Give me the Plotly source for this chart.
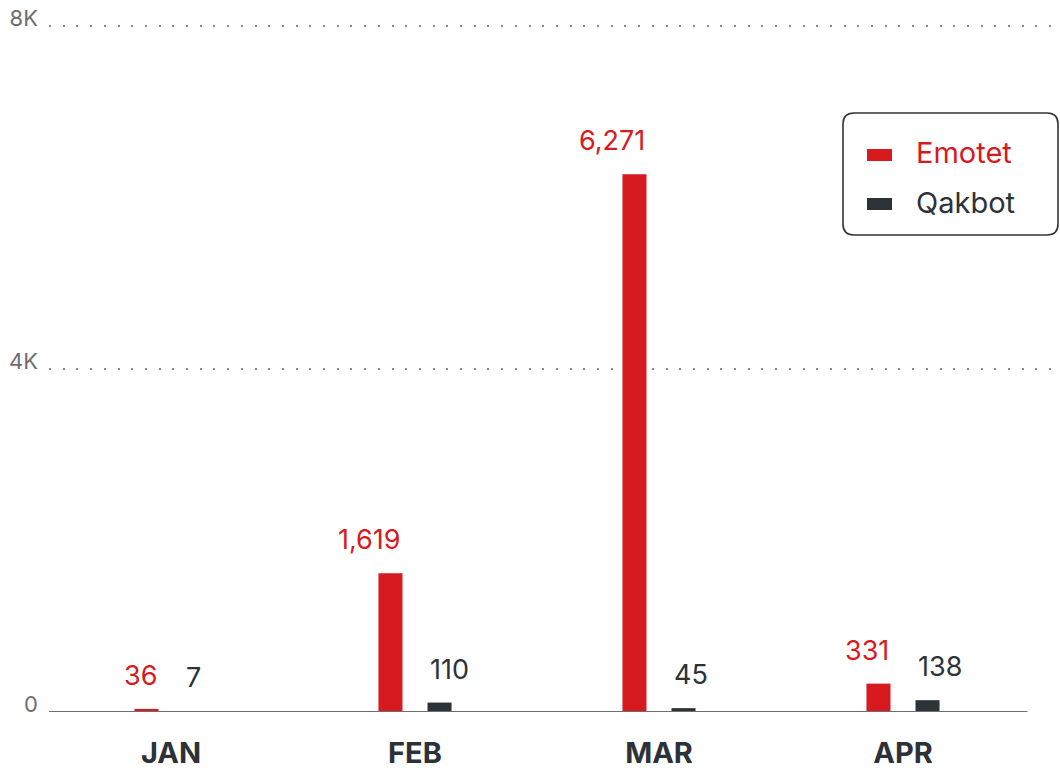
import plotly.graph_objects as go

months = ["JAN", "FEB", "MAR", "APR"]
emotet = [36, 1619, 6271, 331]
qakbot = [7, 110, 45, 138]
series_names = ["Emotet", "Qakbot"]
y_tickvals = [0, 4000, 8000]
y_ticktext = ["0", "4K", "8K"]

RED = "#d71920"
DARK = "#2b3238"
GREY = "#6e6e6e"
FONT = "Inter, Roboto, sans-serif"

W, H = 1060, 770
L, R, T, B = 49, 0, 23, 58
PW, PH = W - L - R, H - T - B
Y_TOP = PH / 686 * 8000


def px(xp):
    return (xp - L) / PW


def py(yp):
    return (H - B - yp) / PH


fig = go.Figure()
fig.add_trace(go.Bar(x=months, y=emotet, name=series_names[0], marker_color=RED,
                     marker_line_width=0, showlegend=False))
fig.add_trace(go.Bar(x=months, y=qakbot, name=series_names[1], marker_color=DARK,
                     marker_line_width=0, showlegend=False))

annotations = []
for m, v in zip(months, emotet):
    annotations.append(dict(x=m, y=v, text=f"{v:,}", showarrow=False, xanchor="right",
                            yanchor="bottom", xshift=-12, yshift=15,
                            font=dict(family=FONT, size=27, color=RED)))
for m, v in zip(months, qakbot):
    annotations.append(dict(x=m, y=v, text=f"{v:,}", showarrow=False, xanchor="left",
                            yanchor="bottom", xshift=13, yshift=15,
                            font=dict(family=FONT, size=27, color=DARK)))

# custom legend
leg_colors = [RED, DARK]
leg_y = [155, 204]
shapes = []
for name, c, yc in zip(series_names, leg_colors, leg_y):
    shapes.append(dict(type="rect", xref="paper", yref="paper",
                       x0=px(867), x1=px(892), y0=py(yc + 6), y1=py(yc - 6),
                       fillcolor=c, line_width=0))
    annotations.append(dict(xref="paper", yref="paper", x=px(914), y=py(yc - 2),
                            text=name, showarrow=False, xanchor="left", yanchor="middle",
                            font=dict(family=FONT, size=29, color=c)))

# rounded legend box
x0, x1, y0, y1, r = 843, 1058, 113, 235, 11
path = (f"M {px(x0 + r)},{py(y0)} L {px(x1 - r)},{py(y0)} "
        f"Q {px(x1)},{py(y0)} {px(x1)},{py(y0 + r)} "
        f"L {px(x1)},{py(y1 - r)} Q {px(x1)},{py(y1)} {px(x1 - r)},{py(y1)} "
        f"L {px(x0 + r)},{py(y1)} Q {px(x0)},{py(y1)} {px(x0)},{py(y1 - r)} "
        f"L {px(x0)},{py(y0 + r)} Q {px(x0)},{py(y0)} {px(x0 + r)},{py(y0)} Z")
shapes.append(dict(type="path", xref="paper", yref="paper", path=path,
                   line=dict(color="#333333", width=1.6), fillcolor="rgba(0,0,0,0)"))

# baseline
shapes.append(dict(type="line", xref="x", yref="y", x0=-0.505, x1=3.51, y0=0, y1=0,
                   line=dict(color=GREY, width=2.2), layer="above"))

fig.update_layout(
    width=W, height=H,
    margin=dict(l=L, r=R, t=T, b=B, pad=0, autoexpand=False),
    paper_bgcolor="white", plot_bgcolor="white",
    barmode="group", bargap=0.598, bargroupgap=0.51,
    showlegend=False,
    font=dict(family=FONT),
    annotations=annotations,
    shapes=shapes,
    xaxis=dict(range=[-0.5, -0.5 + PW / 244], showgrid=False, zeroline=False,
               showline=False, ticks="", ticklabelstandoff=21, automargin=False,
               tickfont=dict(family=FONT, size=29, color=DARK, weight="bold")),
    yaxis=dict(range=[0, Y_TOP], tickvals=y_tickvals, ticktext=y_ticktext,
               showgrid=True, gridcolor="#8a8a8a", gridwidth=1.6, griddash="2px,11.7px",
               zeroline=False, showline=False, ticks="", automargin=False,
               ticklabelposition="outside top", ticklabelstandoff=10,
               ticklabelshift=8, ticklabeloverflow="allow",
               tickfont=dict(family=FONT, size=22, color=GREY)),
)

fig.write_html("out.html", config={"displayModeBar": False},
               post_script="document.body.style.margin='0';document.body.style.overflow='hidden';")
